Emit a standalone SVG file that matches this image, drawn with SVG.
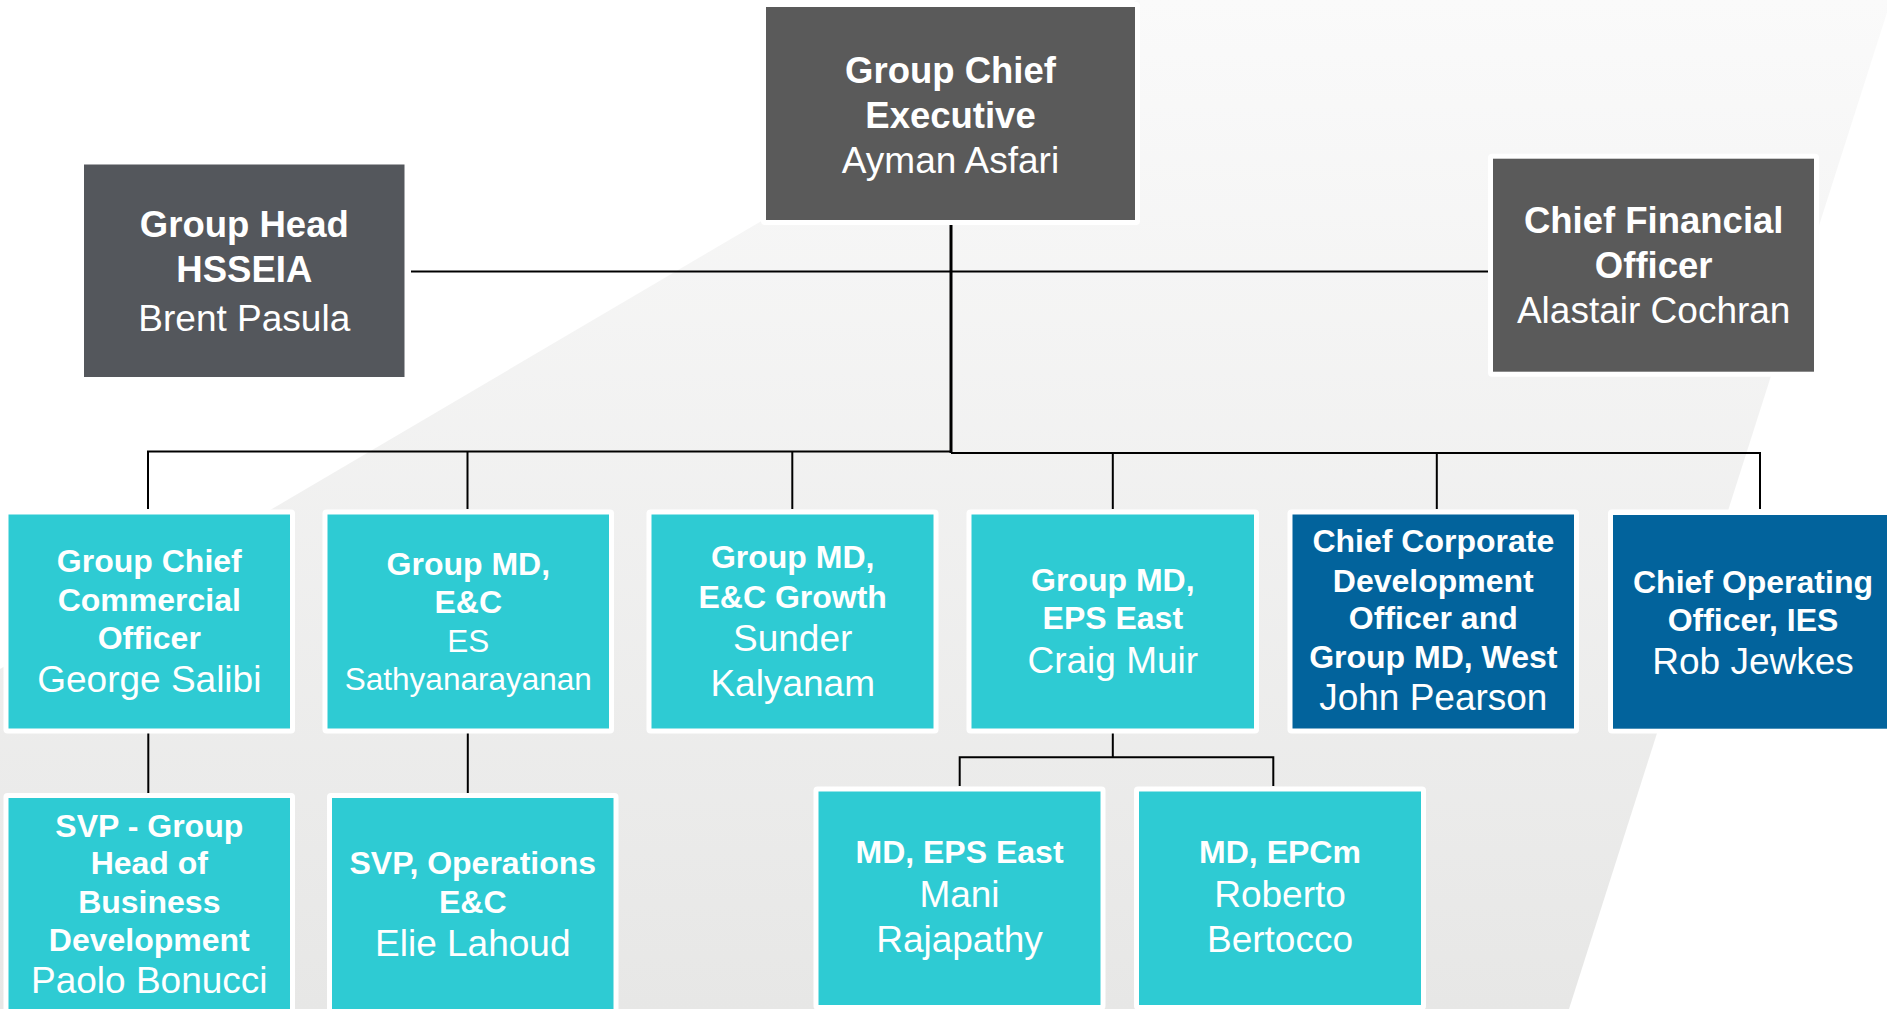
<svg xmlns="http://www.w3.org/2000/svg" width="1887" height="1009" viewBox="0 0 1887 1009">
<defs>
<linearGradient id="bandGrad" x1="0" y1="0" x2="0" y2="1009" gradientUnits="userSpaceOnUse">
<stop offset="0" stop-color="#fafafa"/>
<stop offset="1" stop-color="#e7e7e6"/>
</linearGradient>
<style>
.halo{fill:#ffffff}
.teal{fill:#2ecbd3}
.blue{fill:#02639c}
.grey{fill:#5a5a5a}
.slate{fill:#54575c}
text{font-family:"Liberation Sans",Arial,sans-serif;fill:#ffffff;text-anchor:middle}
.tb{font-weight:bold;font-size:36.5px}
.tn{font-size:37px}
.b{font-weight:bold;font-size:32px}
.n{font-size:37px}
.s{font-size:31.5px}
.ln{stroke:#000000;stroke-width:2;fill:none}
.lk{stroke:#000000;stroke-width:3;fill:none}
</style>
</defs>
<rect x="0" y="0" width="1887" height="1009" fill="#ffffff"/>
<polygon points="1137,0 1891,0 1569,1009 0,1009 0,669" fill="url(#bandGrad)"/>

<g id="connectors">
<line class="lk" x1="951" y1="221" x2="951" y2="453"/>
<line class="ln" x1="411" y1="271.5" x2="1491" y2="271.5" stroke-width="2.5"/>
<line class="ln" x1="147" y1="451.5" x2="951" y2="451.5"/>
<line class="ln" x1="951" y1="453" x2="1761" y2="453"/>
<line class="ln" x1="148" y1="451.5" x2="148" y2="509"/>
<line class="ln" x1="467.5" y1="451.5" x2="467.5" y2="509"/>
<line class="ln" x1="792.3" y1="451.5" x2="792.3" y2="509"/>
<line class="ln" x1="1112.8" y1="453" x2="1112.8" y2="509"/>
<line class="ln" x1="1436.8" y1="453" x2="1436.8" y2="509"/>
<line class="ln" x1="1760" y1="453" x2="1760" y2="509"/>
<line class="ln" x1="148.3" y1="731" x2="148.3" y2="795"/>
<line class="ln" x1="467.8" y1="731" x2="467.8" y2="795"/>
<line class="ln" x1="1112.8" y1="729" x2="1112.8" y2="757.3"/>
<polyline class="ln" points="959.7,786 959.7,757.3 1273.3,757.3 1273.3,786"/>
</g>

<g id="node-ceo">
<rect class="halo" x="761" y="2" width="379" height="223" rx="4"/>
<rect class="grey" x="766" y="7" width="369" height="213"/>
<text class="tb" x="950.5" y="82.7">Group Chief</text>
<text class="tb" x="950.5" y="127.7">Executive</text>
<text class="tn" x="950.5" y="172.7">Ayman Asfari</text>
</g>

<g id="node-hsseia">
<rect class="halo" x="79" y="159.5" width="330.5" height="222.5" rx="4"/>
<rect class="slate" x="84" y="164.5" width="320.5" height="212.5"/>
<text class="tb" x="244.3" y="237.3">Group Head</text>
<text class="tb" x="244.3" y="281.7">HSSEIA</text>
<text class="tn" x="244.3" y="331">Brent Pasula</text>
</g>

<g id="node-cfo">
<rect class="halo" x="1488" y="153.7" width="331" height="223" rx="4"/>
<rect class="grey" x="1493" y="158.7" width="321" height="213"/>
<text class="tb" x="1653.7" y="233.3">Chief Financial</text>
<text class="tb" x="1653.7" y="278.3">Officer</text>
<text class="tn" x="1653.7" y="323.3">Alastair Cochran</text>
</g>

<g id="node-gcco">
<rect class="halo" x="3.5" y="509.5" width="291.5" height="224" rx="4"/>
<rect class="teal" x="8.5" y="514.5" width="281.5" height="214"/>
<text class="b" x="149.3" y="572">Group Chief</text>
<text class="b" x="149.3" y="610.5">Commercial</text>
<text class="b" x="149.3" y="648.5">Officer</text>
<text class="n" x="149.3" y="692">George Salibi</text>
</g>

<g id="node-ec">
<rect class="halo" x="322.5" y="509.5" width="291.5" height="224" rx="4"/>
<rect class="teal" x="327.5" y="514.5" width="281.5" height="214"/>
<text class="b" x="468.3" y="575">Group MD,</text>
<text class="b" x="468.3" y="612.7">E&amp;C</text>
<text class="s" x="468.3" y="651.7">ES</text>
<text class="s" x="468.3" y="690">Sathyanarayanan</text>
</g>

<g id="node-ecgrowth">
<rect class="halo" x="646.5" y="509.5" width="292" height="224" rx="4"/>
<rect class="teal" x="651.5" y="514.5" width="282" height="214"/>
<text class="b" x="792.7" y="568.3">Group MD,</text>
<text class="b" x="792.7" y="607.7">E&amp;C Growth</text>
<text class="n" x="792.7" y="650.7">Sunder</text>
<text class="n" x="792.7" y="695.7">Kalyanam</text>
</g>

<g id="node-epseast">
<rect class="halo" x="966.5" y="509.5" width="292.5" height="224" rx="4"/>
<rect class="teal" x="971.5" y="514.5" width="282.5" height="214"/>
<text class="b" x="1112.8" y="591">Group MD,</text>
<text class="b" x="1112.8" y="629">EPS East</text>
<text class="n" x="1112.8" y="673.3">Craig Muir</text>
</g>

<g id="node-ccdo">
<rect class="halo" x="1287.5" y="509.5" width="291.5" height="224" rx="4"/>
<rect class="blue" x="1292.5" y="514.5" width="281.5" height="214"/>
<text class="b" x="1433.3" y="551.7">Chief Corporate</text>
<text class="b" x="1433.3" y="591.7">Development</text>
<text class="b" x="1433.3" y="629.3">Officer and</text>
<text class="b" x="1433.3" y="668.3">Group MD, West</text>
<text class="n" x="1433.3" y="710">John Pearson</text>
</g>

<g id="node-coo">
<rect class="halo" x="1608" y="509.5" width="292" height="224" rx="4"/>
<rect class="blue" x="1613" y="515" width="282" height="213.7"/>
<text class="b" x="1753" y="593.3">Chief Operating</text>
<text class="b" x="1753" y="631">Officer, IES</text>
<text class="n" x="1753" y="674.3">Rob Jewkes</text>
</g>

<g id="node-svpbd">
<rect class="halo" x="3.5" y="793" width="291.5" height="230" rx="4"/>
<rect class="teal" x="8.5" y="798" width="281.5" height="220"/>
<text class="b" x="149.3" y="836.7">SVP - Group</text>
<text class="b" x="149.3" y="874">Head of</text>
<text class="b" x="149.3" y="913">Business</text>
<text class="b" x="149.3" y="950.7">Development</text>
<text class="n" x="149.3" y="993.3">Paolo Bonucci</text>
</g>

<g id="node-svpops">
<rect class="halo" x="327" y="793" width="291.5" height="230" rx="4"/>
<rect class="teal" x="332" y="798" width="281.5" height="220"/>
<text class="b" x="472.8" y="874">SVP, Operations</text>
<text class="b" x="472.8" y="913.3">E&amp;C</text>
<text class="n" x="472.8" y="955.7">Elie Lahoud</text>
</g>

<g id="node-mdepseast">
<rect class="halo" x="813.5" y="786.5" width="292" height="223.5" rx="4"/>
<rect class="teal" x="818.5" y="791.5" width="282" height="213.5"/>
<text class="b" x="959.5" y="863.3">MD, EPS East</text>
<text class="n" x="959.5" y="907.3">Mani</text>
<text class="n" x="959.5" y="952.3">Rajapathy</text>
</g>

<g id="node-mdepcm">
<rect class="halo" x="1134" y="786.5" width="292" height="223.5" rx="4"/>
<rect class="teal" x="1139" y="791.5" width="282" height="213.5"/>
<text class="b" x="1280" y="863.3">MD, EPCm</text>
<text class="n" x="1280" y="907.3">Roberto</text>
<text class="n" x="1280" y="952.3">Bertocco</text>
</g>
</svg>
